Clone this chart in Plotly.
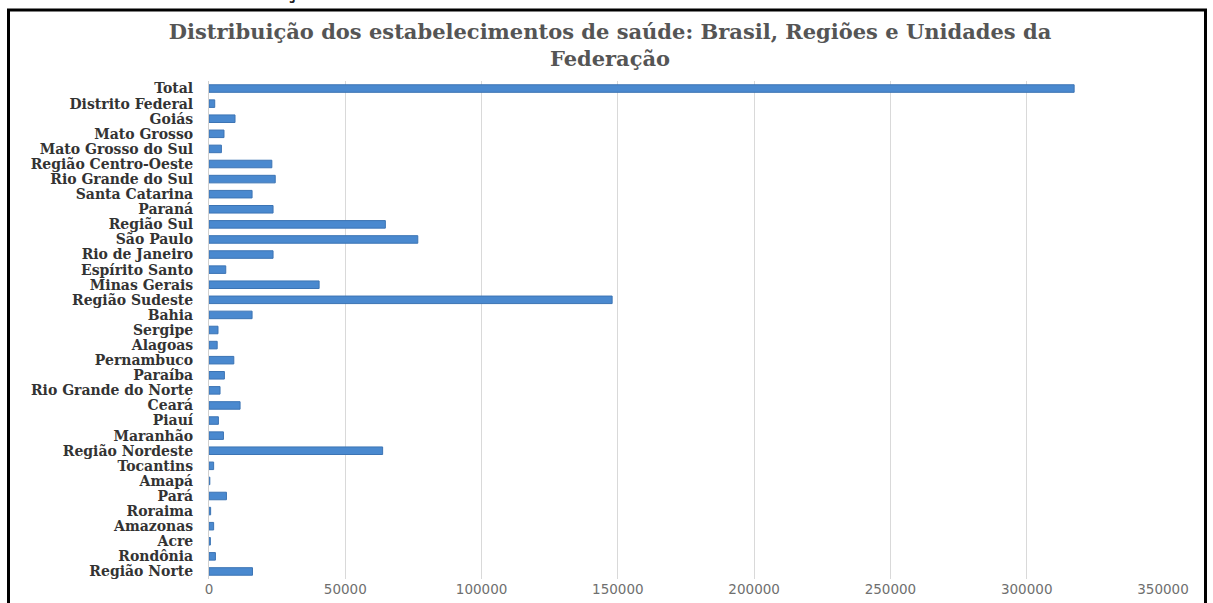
import plotly.graph_objects as go

# Categories listed bottom-to-top (as drawn by the category axis)
categories = [
    "Região Norte", "Rondônia", "Acre", "Amazonas", "Roraima", "Pará", "Amapá", "Tocantins",
    "Região Nordeste", "Maranhão", "Piauí", "Ceará", "Rio Grande do Norte", "Paraíba",
    "Pernambuco", "Alagoas", "Sergipe", "Bahia",
    "Região Sudeste", "Minas Gerais", "Espírito Santo", "Rio de Janeiro", "São Paulo",
    "Região Sul", "Paraná", "Santa Catarina", "Rio Grande do Sul",
    "Região Centro-Oeste", "Mato Grosso do Sul", "Mato Grosso", "Goiás", "Distrito Federal",
    "Total",
]
estabelecimentos = [
    15950, 2350, 500, 1700, 600, 6400, 300, 1700,
    63700, 5300, 3450, 11400, 4050, 5650,
    9100, 3000, 3300, 15800,
    147900, 40400, 6150, 23500, 76600,
    64700, 23500, 15800, 24300,
    23050, 4550, 5500, 9550, 2100,
    317400,
]
x_ticks = [0, 50000, 100000, 150000, 200000, 250000, 300000, 350000]

W, H = 1213, 603
ML, MR, MT, MB = 209, 50, 81, 24
PW, PH = W - ML - MR, H - MT - MB


def px(x):
    return (x - ML) / PW


def py(y):
    return (H - MB - y) / PH


fig = go.Figure()
fig.add_trace(go.Bar(
    y=categories, x=estabelecimentos, orientation="h",
    marker=dict(color="#4a89cf", line=dict(color="#3c74b4", width=1)),
    width=0.5, hoverinfo="x+y",
))

fig.update_layout(
    width=W, height=H,
    margin=dict(l=ML, r=MR, t=MT, b=MB, autoexpand=False),
    paper_bgcolor="white", plot_bgcolor="white",
    showlegend=False,
    title=dict(
        text="Distribuição dos estabelecimentos de saúde: Brasil, Regiões e Unidades da<br>Federação",
        x=610 / W, xanchor="center", xref="container",
        y=1 - 39 / H, yanchor="middle", yref="container",
        font=dict(family="DejaVu Serif", size=21, color="#555555", weight="bold"),
    ),
    xaxis=dict(
        range=[0, 350000], tickmode="array", tickvals=x_ticks,
        ticktext=[str(v) for v in x_ticks],
        showgrid=True, gridcolor="#d9d9d9", gridwidth=1, automargin=False,
        zeroline=False, showline=False, ticks="",
        tickfont=dict(family="DejaVu Sans", size=13.5, color="#6f6f6f"),
    ),
    yaxis=dict(
        showgrid=False, zeroline=False, showline=True, linecolor="#d0d0d0", linewidth=1,
        ticks="", ticklabelstandoff=12, automargin=False,
        tickmode="array", tickvals=categories, ticktext=categories,
        tickfont=dict(family="DejaVu Serif", size=14, color="#333333", weight="bold"),
        categoryorder="array", categoryarray=categories,
    ),
    bargap=0.5,
)

# outer black frame of the chart picture
fig.add_shape(type="rect", xref="paper", yref="paper",
              x0=px(8.5), x1=px(1205.5), y0=py(607), y1=py(10),
              line=dict(color="black", width=3), fillcolor="rgba(0,0,0,0)", layer="above")

# cut-off caption text above the frame
fig.add_annotation(text="<b>Unidades da Federação</b>", xref="paper", yref="paper",
                   x=px(330), y=py(5), xanchor="right", yanchor="bottom",
                   showarrow=False,
                   font=dict(family="DejaVu Serif", size=22, color="#222222"))

fig.write_html("out.html")
